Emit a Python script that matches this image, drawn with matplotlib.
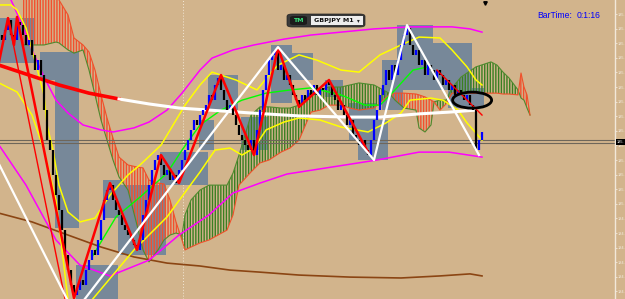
import numpy as np
import matplotlib
matplotlib.use("Agg")
import matplotlib.pyplot as plt
from matplotlib.patches import Rectangle, Ellipse, FancyBboxPatch
from matplotlib.transforms import blended_transform_factory

# GBPJPY M1 - closes, one per bar (open = previous close)
close = [185.561, 185.595, 185.629, 185.578, 185.561, 185.623, 185.612, 185.578, 185.544, 185.561,
         185.510, 185.458, 185.492, 185.441, 185.321, 185.218, 185.184, 185.099, 185.030, 184.979,
         184.910, 184.825, 184.773, 184.722, 184.688, 184.705, 184.739, 184.722, 184.773, 184.807,
         184.842, 184.825, 184.876, 184.944, 185.013, 185.047, 185.064, 185.013, 184.979, 184.962,
         184.927, 184.910, 184.893, 184.876, 184.859, 184.842, 184.876, 184.962, 185.013, 185.064,
         185.116, 185.150, 185.167, 185.133, 185.099, 185.116, 185.081, 185.099, 185.071, 185.116,
         185.150, 185.184, 185.218, 185.253, 185.287, 185.270, 185.304, 185.321, 185.338, 185.373,
         185.355, 185.407, 185.431, 185.390, 185.355, 185.321, 185.338, 185.304, 185.270, 185.236,
         185.218, 185.201, 185.184, 185.218, 185.167, 185.253, 185.321, 185.390, 185.441, 185.492,
         185.510, 185.527, 185.458, 185.475, 185.424, 185.441, 185.407, 185.373, 185.355, 185.338,
         185.373, 185.355, 185.390, 185.373, 185.407, 185.373, 185.397, 185.390, 185.417, 185.407,
         185.373, 185.355, 185.321, 185.338, 185.304, 185.270, 185.287, 185.236, 185.218, 185.201,
         185.218, 185.184, 185.167, 185.218, 185.287, 185.321, 185.373, 185.407, 185.458, 185.424,
         185.475, 185.441, 185.492, 185.544, 185.578, 185.602, 185.544, 185.510, 185.527, 185.475,
         185.492, 185.441, 185.475, 185.458, 185.424, 185.458, 185.441, 185.407, 185.424, 185.390,
         185.407, 185.373, 185.390, 185.373, 185.355, 185.373, 185.338, 185.321, 185.184, 185.218,
         185.246]

# envelopes / moving averages (bar, price)
ma_up_x = [1, 3, 6, 10, 14, 18, 22, 27, 33, 37, 44, 49, 55, 60, 66, 70, 77, 84, 94, 103, 113, 124, 136, 143, 150, 156, 160]
ma_up_y = [185.732, 185.698, 185.629, 185.527, 185.434, 185.355, 185.311, 185.270, 185.253, 185.246, 185.260,
           185.280, 185.321, 185.379, 185.458, 185.499, 185.527, 185.544, 185.564, 185.578, 185.588, 185.599,
           185.606, 185.606, 185.606, 185.599, 185.588]
ma_dn_x = [-1, 8, 18, 26, 36, 49, 59, 69, 77, 86, 95, 110, 125, 139, 149, 160]
ma_dn_y = [185.201, 185.064, 184.876, 184.790, 184.753, 184.807, 184.893, 184.962, 185.037, 185.071, 185.102,
           185.126, 185.150, 185.177, 185.177, 185.160]
yel_up_x = [-1, 3, 5, 8, 10, 12, 14, 15, 17, 19, 22, 26, 31, 36, 42, 46, 53, 61, 66, 70, 78, 85, 89, 92, 99,
            105, 113, 119, 126, 133, 139, 146, 150, 155, 158, 160]
yel_up_y = [185.681, 185.681, 185.664, 185.602, 185.527, 185.451, 185.373, 185.270, 185.184, 185.064, 184.972,
            184.938, 184.951, 185.030, 185.099, 185.133, 185.201, 185.338, 185.407, 185.451, 185.424, 185.390,
            185.441, 185.475, 185.510, 185.492, 185.458, 185.451, 185.510, 185.544, 185.571, 185.568, 185.527,
            185.469, 185.424, 185.407]
yel_dn_x = [-1, 5, 10, 14, 18, 20, 22, 25, 30, 44, 55, 66, 71, 76, 80, 84, 88, 94, 99, 106, 113, 122, 128,
            133, 136, 143, 147, 152, 155, 158, 160]
yel_dn_y = [185.414, 185.383, 185.304, 185.184, 185.013, 184.842, 184.671, 184.602, 184.671, 184.842, 184.955,
            185.109, 185.184, 185.191, 185.167, 185.191, 185.253, 185.280, 185.294, 185.287, 185.263, 185.246,
            185.277, 185.311, 185.355, 185.362, 185.355, 185.321, 185.277, 185.242, 185.218]
green_x = [30, 38, 46, 55, 60, 66, 73, 80, 88, 96, 103, 113, 121, 126, 130, 137, 142]
green_y = [184.818, 184.955, 185.023, 185.105, 185.184, 185.270, 185.321, 185.355, 185.379, 185.390, 185.397,
           185.373, 185.338, 185.338, 185.379, 185.458, 185.469]
brown_x = [-1, 10, 22, 33, 44, 55, 66, 76, 86, 99, 116, 133, 146, 156, 160]
brown_y = [184.968, 184.938, 184.893, 184.852, 184.818, 184.797, 184.787, 184.773, 184.766, 184.756, 184.749,
           184.746, 184.753, 184.760, 184.753]
slow_x = [-1, 9, 19, 29, 39, 49, 59, 69, 83, 99, 116, 126, 139, 149, 158]
slow_y = [185.475, 185.441, 185.407, 185.379, 185.359, 185.342, 185.328, 185.321, 185.311, 185.301, 185.297,
          185.297, 185.308, 185.314, 185.321]
slow_red_until = 39

# zigzags and trend lines
zz_red_x = [-1, 2, 4, 5, 24, 36, 45, 53, 59, 73, 84, 92, 99, 109, 122]
zz_red_y = [185.486, 185.636, 185.544, 185.640, 184.677, 185.071, 184.842, 185.167, 185.071, 185.441, 185.167,
            185.534, 185.332, 185.424, 185.177]
zz_white_x = [-1, 24, 92, 124, 135, 159]
zz_white_y = [185.136, 184.626, 185.537, 185.150, 185.612, 185.167]
trend_red = [([2, 21], [185.636, 184.674]), ([145, 160], [185.458, 185.304])]

# ichimoku cloud
cloud_x = [7, 9, 14, 18, 19, 22, 24, 27, 29, 31, 33, 35, 37, 39, 42, 45, 47, 49, 52, 54, 56, 58, 60, 61, 63,
           66, 69, 75, 77, 79, 83, 86, 89, 93, 96, 99, 103, 106, 109, 113, 116, 119, 124, 129, 131, 134, 138,
           139, 141, 143, 144, 146, 148, 150, 153, 158, 163, 165, 167, 169, 172, 173, 174, 175, 176]
span_a = [185.544, 185.544, 185.544, 185.554, 185.551, 185.527, 185.516, 185.527, 185.458, 185.373,
          185.287, 185.218, 185.150, 185.092, 185.047, 184.927, 184.842, 184.801, 184.842, 184.876,
          184.893, 184.900, 184.893, 184.962, 185.013, 185.047, 185.064, 185.064, 185.105, 185.167,
          185.304, 185.332, 185.332, 185.328, 185.328, 185.338, 185.383, 185.390, 185.400, 185.400,
          185.407, 185.414, 185.407, 185.379, 185.355, 185.328, 185.321, 185.260, 185.246, 185.270,
          185.349, 185.355, 185.355, 185.397, 185.434, 185.469, 185.486, 185.475, 185.451, 185.431,
          185.390, 185.362, 185.355, 185.328, 185.304]
span_b = [185.732, 185.732, 185.732, 185.732, 185.698, 185.647, 185.568, 185.544, 185.520, 185.458,
          185.373, 185.294, 185.225, 185.160, 185.133, 185.126, 185.123, 185.081, 185.071, 185.068,
          185.013, 184.938, 184.876, 184.842, 184.852, 184.866, 184.876, 184.910, 184.962, 185.064,
          185.109, 185.140, 185.150, 185.177, 185.191, 185.218, 185.314, 185.321, 185.338, 185.338,
          185.328, 185.321, 185.328, 185.373, 185.379, 185.379, 185.376, 185.373, 185.366, 185.355,
          185.349, 185.321, 185.342, 185.379, 185.379, 185.379, 185.379, 185.379, 185.376, 185.376,
          185.373, 185.448, 185.400, 185.373, 185.304]

# rectangles (first bar, last bar, top, bottom)
box_start = [-1, 13, 18, 25, 34, 39, 53, 66, 69, 80, 90, 96, 108, 116, 119, 127, 132, 143, 149]
box_end = [10, 25, 25, 38, 39, 54, 68, 70, 78, 88, 96, 103, 113, 124, 128, 133, 143, 156, 160]
box_top = [185.636, 185.520, 185.424, 184.790, 185.081, 185.064, 185.177, 185.287, 185.441, 185.297,
           185.544, 185.516, 185.424, 185.345, 185.287, 185.492, 185.612, 185.551, 185.397]
box_bottom = [185.482, 185.424, 184.917, 184.650, 184.951, 184.825, 185.064, 185.184, 185.321, 185.184,
              185.345, 185.424, 185.366, 185.218, 185.150, 185.321, 185.390, 185.390, 185.328]

bid_lines = [185.218, 185.207]
separator_bar = 60.3
ticks = [184.70, 184.75, 184.80, 184.85, 184.90, 184.95, 185.00, 185.05, 185.10, 185.15,
         185.20, 185.25, 185.30, 185.35, 185.40, 185.45, 185.50, 185.55, 185.60, 185.65]

TAN = '#D2B48C'
BOX = '#778899'
plt.rcParams['hatch.linewidth'] = 1.0

fig = plt.figure(figsize=(6.25, 2.99), dpi=100)
fig.patch.set_facecolor(TAN)
ax = fig.add_axes([0, 0, 615 / 625, 1])
ax.set_facecolor(TAN)
ax.set_xlim(-0.67, 204.33)
ax.set_ylim(184.674, 185.698)

# boxes
for s, e, t, b in zip(box_start, box_end, box_top, box_bottom):
    ax.add_patch(Rectangle((s - 0.5, b), e - s + 1, t - b, fc=BOX, ec='none', zorder=1))

# cloud
a = np.array(span_a)
b = np.array(span_b)
ax.fill_between(cloud_x, a, b, where=b >= a, interpolate=True, facecolor='none',
                edgecolor='#F2502E', hatch='||||||', linewidth=0, zorder=2)
ax.fill_between(cloud_x, a, b, where=a > b, interpolate=True, facecolor='none',
                edgecolor='#3A7F22', hatch='||||||', linewidth=0, zorder=2)
ax.plot(cloud_x, span_a, color='#4E8A2E', lw=0.8, zorder=2)
ax.plot(cloud_x, span_b, color='#F0502A', lw=0.8, zorder=2)

ax.axvline(separator_bar, color='#F2E8D8', ls=(0, (1, 2)), lw=0.7, zorder=0.5)
for p in bid_lines:
    ax.axhline(p, color='#6E665A', lw=0.8, zorder=2.5)

# moving averages
ax.plot(brown_x, brown_y, color='#8B4513', lw=1.2, zorder=3)
ax.plot(ma_up_x, ma_up_y, color='#FF00FF', lw=1.1, zorder=3)
ax.plot(ma_dn_x, ma_dn_y, color='#FF00FF', lw=1.1, zorder=3)
ax.plot(yel_up_x, yel_up_y, color='#FFFF00', lw=1.1, zorder=3)
ax.plot(yel_dn_x, yel_dn_y, color='#FFFF00', lw=1.1, zorder=3)
ax.plot(green_x, green_y, color='#00FF00', lw=1.0, zorder=3)
k = slow_x.index(slow_red_until) + 1
ax.plot(slow_x[:k], slow_y[:k], color='#FF0000', lw=2.6, zorder=3.5)
ax.plot(slow_x[k - 1:], slow_y[k - 1:], color='#FFFFFF', lw=2.2, zorder=3.5)

# candles
c = np.array(close)
o = np.r_[c[0] + 0.017, c[:-1]]
xb = np.arange(len(c))
up = c >= o
ax.vlines(xb[up], o[up], c[up], colors='#0000FF', lw=1.6, zorder=4)
ax.vlines(xb[~up], c[~up], o[~up], colors='#000000', lw=1.6, zorder=4)

# zigzags
for tx, ty in trend_red:
    ax.plot(tx, ty, color='#FF0000', lw=1.0, zorder=4.5)
ax.plot(zz_red_x, zz_red_y, color='#FF0000', lw=1.8, zorder=5)
ax.plot(zz_white_x, zz_white_y, color='#FFFFFF', lw=1.6, zorder=5)

ax.add_patch(Ellipse((156.7, 185.355), 13, 0.055, fill=False, ec='black', lw=2, zorder=6))
ax.plot([161], [185.688], marker='v', color='black', ms=2.5, zorder=6, clip_on=False)

# right price scale (labels are cut to "185." by the narrow scale, as on screen)
ax.yaxis.tick_right()
ax.set_yticks(ticks)
ax.set_yticklabels(['%d.' % int(t) for t in ticks])
ax.tick_params(axis='y', direction='out', length=1.2, width=0.6, color='#F2E8DA',
               labelsize=2.8, labelcolor='#F4ECE0', pad=0.6)
for lab in ax.get_yticklabels():
    lab.set_family('Liberation Sans')
ax.tick_params(axis='x', bottom=False, labelbottom=False)
for s in ['top', 'left', 'bottom']:
    ax.spines[s].set_visible(False)
ax.spines['right'].set_color('#F2E8DA')
ax.spines['right'].set_linewidth(1.0)
tr = blended_transform_factory(ax.transAxes, ax.transData)
ax.text(1.003, 185.212, '185.', transform=tr, fontsize=2.8, color='white', va='center',
        family='Liberation Sans', bbox=dict(fc='black', ec='none', pad=0.6), clip_on=False, zorder=7)

# symbol selector + bar timer
fig.add_artist(FancyBboxPatch((287 / 625, 1 - 27 / 299), 78 / 625, 13 / 299,
                              boxstyle='round,pad=0,rounding_size=0.008', fc='#3A3A3A', ec='#222222', lw=0.5))
fig.add_artist(FancyBboxPatch((290 / 625, 1 - 25 / 299), 17 / 625, 9 / 299,
                              boxstyle='round,pad=0,rounding_size=0.006', fc='#1C1C1C', ec='none'))
fig.add_artist(Rectangle((311 / 625, 1 - 25 / 299), 52 / 625, 9 / 299, fc='#EDEDED', ec='none'))
fig.text(298.5 / 625, 1 - 20.5 / 299, 'TM', color='#3BE37C', fontsize=4.5, fontweight='bold',
         ha='center', va='center')
fig.text(314 / 625, 1 - 20.5 / 299, 'GBPJPY M1', color='#111111', fontsize=4.6, fontweight='bold',
         ha='left', va='center')
fig.text(358 / 625, 1 - 20.5 / 299, '\u25BE', color='#222222', fontsize=4, ha='center', va='center')
fig.text(537 / 625, 1 - 16 / 299, 'BarTime:', color='#0000FF', fontsize=6.2, ha='left', va='center',
         family='Liberation Sans')
fig.text(577 / 625, 1 - 16 / 299, '0:1:16', color='#0000FF', fontsize=6.2, ha='left', va='center',
         family='Liberation Sans')

fig.savefig('out.png', dpi=100, facecolor=TAN)
